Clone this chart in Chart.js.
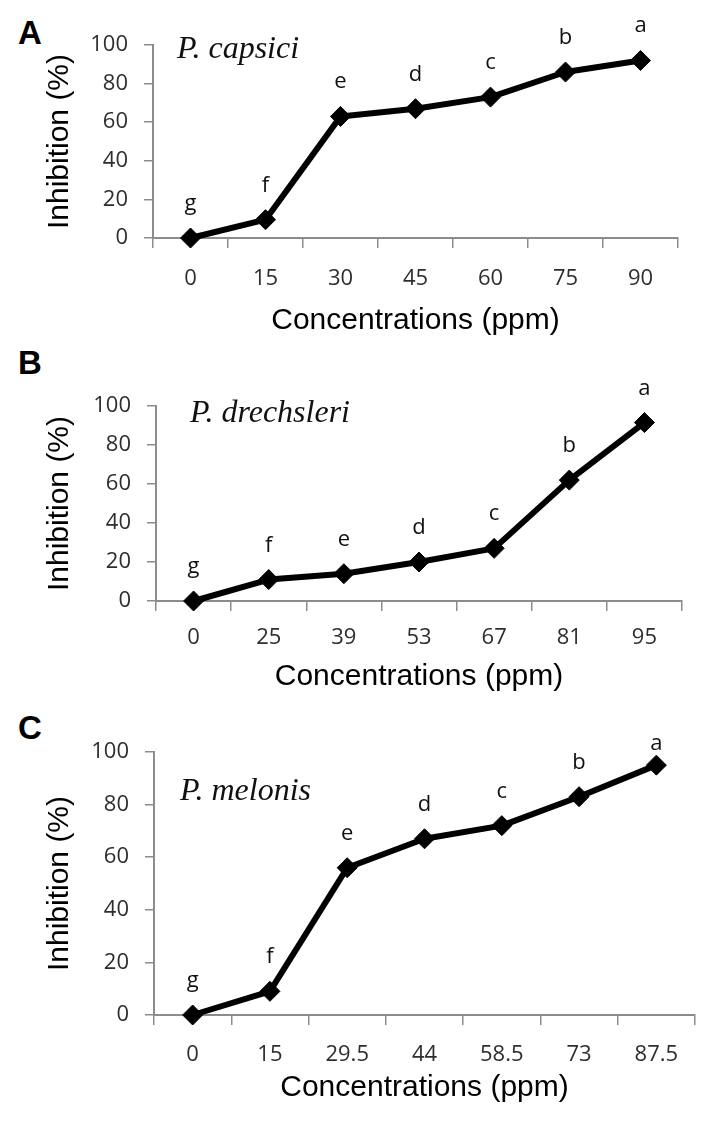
<!DOCTYPE html>
<html>
<head>
<meta charset="utf-8">
<script src="https://cdn.jsdelivr.net/npm/chart.js@4"></script>
<style>
  html, body { margin: 0; padding: 0; background: #fff; overflow: hidden; }
  body { width: 719px; height: 1126px; position: relative; }
  canvas { position: absolute; left: 0; }
  .tag { position: absolute; left: 18px; font: bold 33px "Liberation Sans", Arial, sans-serif; line-height: 1; color: #000; }
</style>
</head>
<body>

<div class="tag" style="top:16px">A</div>
<div class="tag" style="top:346px">B</div>
<div class="tag" style="top:711px">C</div>

<canvas id="chartA" width="719" height="345" style="top:0px"></canvas>
<canvas id="chartB" width="719" height="360" style="top:345px"></canvas>
<canvas id="chartC" width="719" height="421" style="top:705px"></canvas>

<script>
// ============================
// DATA
// ============================

const concA = ['0', '15', '30', '45', '60', '75', '90'];
const inhibA = [0, 9.5, 63, 67, 73, 86, 92];

const concB = ['0', '25', '39', '53', '67', '81', '95'];
const inhibB = [0, 11, 14, 20, 27, 62, 91.5];

const concC = ['0', '15', '29.5', '44', '58.5', '73', '87.5'];
const inhibC = [0, 9, 56, 67, 72, 83, 95];

const groups = ['g', 'f', 'e', 'd', 'c', 'b', 'a'];

const yMin = 0;
const yMax = 100;
const yStep = 20;

const axisGray = '#8c8c8c';
const tickText = '#2e2e2e';


// ============================
// LETTERS + SPECIES NAME
// ============================

const annotate = {
    id: 'annotate',
    afterDatasetsDraw(chart, args, opts) {
        const ctx = chart.ctx;
        const area = chart.chartArea;
        const meta = chart.getDatasetMeta(0);

        ctx.save();
        ctx.fillStyle = '#111';
        ctx.font = '22px "Open Sans"';
        ctx.textAlign = 'center';
        ctx.textBaseline = 'alphabetic';
        meta.data.forEach((pt, i) => {
            let y = pt.y - 28;
            if (opts.clampTop) y = Math.max(y, area.top - 2);
            ctx.fillText(opts.letters[i], pt.x, y);
        });

        ctx.fillStyle = '#111';
        ctx.font = 'italic 32px "Liberation Serif"';
        ctx.textAlign = 'left';
        ctx.fillText(opts.species, area.left + opts.dx, area.top + opts.dy);
        ctx.restore();
    }
};


// ============================
// PANEL
// ============================

function panel(id, labels, values, species, lay) {

    new Chart(document.getElementById(id), {

        type: 'line',

        data: {
            labels: labels,
            datasets: [{
                data: values,
                borderColor: '#000',
                borderWidth: 6,
                borderJoinStyle: 'round',
                tension: 0,
                pointStyle: 'rectRot',
                pointRadius: 10,
                pointBackgroundColor: '#000',
                pointBorderColor: '#000',
                pointBorderWidth: 1,
                clip: false
            }]
        },

        options: {
            responsive: false,
            animation: false,
            layout: {
                padding: { top: lay.padTop, right: lay.padRight, left: 0, bottom: 0 }
            },
            plugins: {
                legend: { display: false },
                tooltip: { enabled: false },
                annotate: {
                    letters: groups,
                    species: species,
                    dx: lay.dx,
                    dy: lay.dy,
                    clampTop: !!lay.clampTop
                }
            },
            scales: {
                x: {
                    type: 'category',
                    offset: true,
                    grid: {
                        offset: true,
                        drawOnChartArea: false,
                        tickLength: 10,
                        color: axisGray,
                        lineWidth: 1.5
                    },
                    border: { color: axisGray, width: 2 },
                    ticks: {
                        color: tickText,
                        font: { family: 'Open Sans', size: 22 },
                        padding: lay.tickPad,
                        maxRotation: 0,
                        autoSkip: false
                    },
                    title: {
                        display: true,
                        text: 'Concentrations (ppm)',
                        color: '#000',
                        font: { family: 'Liberation Sans', size: 30 },
                        padding: { top: 0, bottom: lay.titlePad }
                    },
                    afterFit(s) { s.height = lay.xH; }
                },
                y: {
                    min: yMin,
                    max: yMax,
                    grid: {
                        drawOnChartArea: false,
                        tickLength: 9,
                        color: axisGray,
                        lineWidth: 1.5
                    },
                    border: { color: axisGray, width: 2 },
                    ticks: {
                        stepSize: yStep,
                        color: tickText,
                        font: { family: 'Open Sans', size: 22 },
                        padding: 16
                    },
                    title: {
                        display: true,
                        text: 'Inhibition (%)',
                        color: '#000',
                        font: { family: 'Liberation Sans', size: 30 },
                        padding: { top: 41.5, bottom: 0 }
                    },
                    afterFit(s) { s.width = lay.yW; }
                }
            }
        },

        plugins: [annotate]

    });

}

panel('chartA', concA, inhibA, 'P. capsici',
    { padTop: 45, padRight: 41, yW: 153, xH: 107, tickPad: 18, titlePad: 6, dx: 24, dy: 13 });

panel('chartB', concB, inhibB, 'P. drechsleri',
    { padTop: 61, padRight: 37, yW: 156, xH: 104, tickPad: 14, titlePad: 10, dx: 34, dy: 16 });

panel('chartC', concC, inhibC, 'P. melonis',
    { padTop: 47, padRight: 24, yW: 154, xH: 111, tickPad: 17, titlePad: 20, dx: 26, dy: 48, clampTop: true });
</script>
</body>
</html>
